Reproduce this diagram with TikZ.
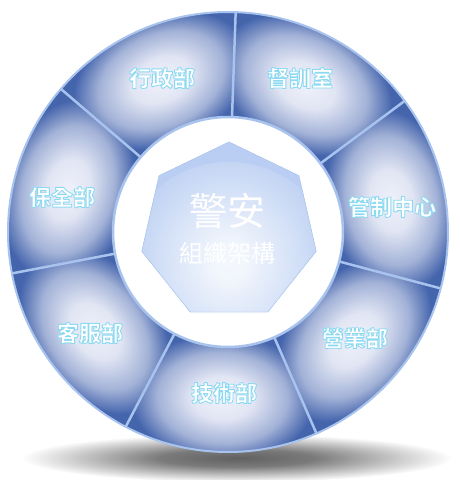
\documentclass[tikz,border=0pt]{standalone}
\usepackage{fontspec}
\newfontfamily\zhfont{Noto Sans CJK TC}
\usetikzlibrary{shapes.geometric}

\definecolor{ringblue}{HTML}{4464AC}
\definecolor{rimblue}{HTML}{A7C3EE}
\definecolor{glowwhite}{HTML}{EFF1FA}
\definecolor{heptblue}{HTML}{B9CEF2}
\definecolor{heptedge}{HTML}{A5C0EC}

\pgfdeclareradialshading{segglow}{\pgfpointorigin}{%
  color(0bp)=(glowwhite); color(8bp)=(glowwhite!92!ringblue);
  color(17bp)=(glowwhite!55!ringblue); color(24bp)=(ringblue); color(50bp)=(ringblue)}
\pgfdeclareradialshading{heptglow}{\pgfpointorigin}{%
  color(0bp)=(white!85!heptblue); color(4bp)=(white!80!heptblue); color(25bp)=(heptblue); color(50bp)=(heptblue)}
\pgfdeclareradialshading{floorshadow}{\pgfpointorigin}{%
  color(0bp)=(black!62); color(9bp)=(black!52); color(25bp)=(white); color(50bp)=(white)}

\newcommand{\halo}[1]{\special{pdf:literal direct 1 j 0.55 0.85 0.95 RG 0.9 w 2 Tr}#1\special{pdf:literal direct 0 Tr}}

\tikzset{
  rim/.style={draw=rimblue, line width=2.5pt},
  dept/.style={text=white, font=\zhfont\bfseries\fontsize{22}{24}\selectfont, inner sep=0pt},
}

\begin{document}
\begin{tikzpicture}[x=1pt, y=1pt]
  \useasboundingbox (-228,-248) rectangle (233,232);

  % shadow under the ring
  \shade[shading=floorshadow] (9,-226) ellipse [x radius=215, y radius=24];

  \fill[ringblue] (0,0) circle (220);

  % seven segments, each with its own glow
  \foreach \i in {0,...,6}{
    \pgfmathsetmacro\a{88+360/7*\i}
    \pgfmathsetmacro\b{\a+360/7}
    \pgfmathsetmacro\m{\a+180/7}
    \begin{scope}
      \clip (\a:115) arc[start angle=\a, end angle=\b, radius=115]
        -- (\b:220) arc[start angle=\b, end angle=\a, radius=220] -- cycle;
      \begin{scope}[transform canvas={shift={(\m:166)}, rotate=\m-90}]
        \shade[shading=segglow] (0,0) ellipse [x radius=96, y radius=67];
      \end{scope}
    \end{scope}
  }

  \foreach \i in {0,...,6}
    \draw[rim] (88+360/7*\i:115) -- (88+360/7*\i:220);
  \draw[rim, line width=2pt] (0,0) circle (220);
  \draw[rim, fill=white] (0,0) circle (115);

  % centre
  \node[regular polygon, regular polygon sides=7, minimum size=179, inner sep=0pt,
        draw=heptedge, fill=heptblue,
        path picture={\shade[shading=heptglow] ([yshift=-45pt]path picture bounding box.center) circle (110);}]
        (hept) at (1,0.6) {};
  \node[text=white, font=\zhfont\fontsize{38}{40}\selectfont, inner sep=0pt] (title) at (0,21) {警安};
  \node[text=white, font=\zhfont\fontsize{24}{26}\selectfont, inner sep=0pt] (subtitle) at (0,-21) {組織架構};

  \foreach \lab/\ang/\rad [count=\k] in {行政部/113.2/167.5, 督訓室/64.9/170, 管制中心/8.7/166,
      營業部/-39.9/165.4, 技術部/-91.4/161, 客服部/-143.8/171, 保全部/168.1/169.6}
    \node[dept] (dept\k) at (\ang:\rad) {\halo{\lab}};

\end{tikzpicture}
\end{document}
